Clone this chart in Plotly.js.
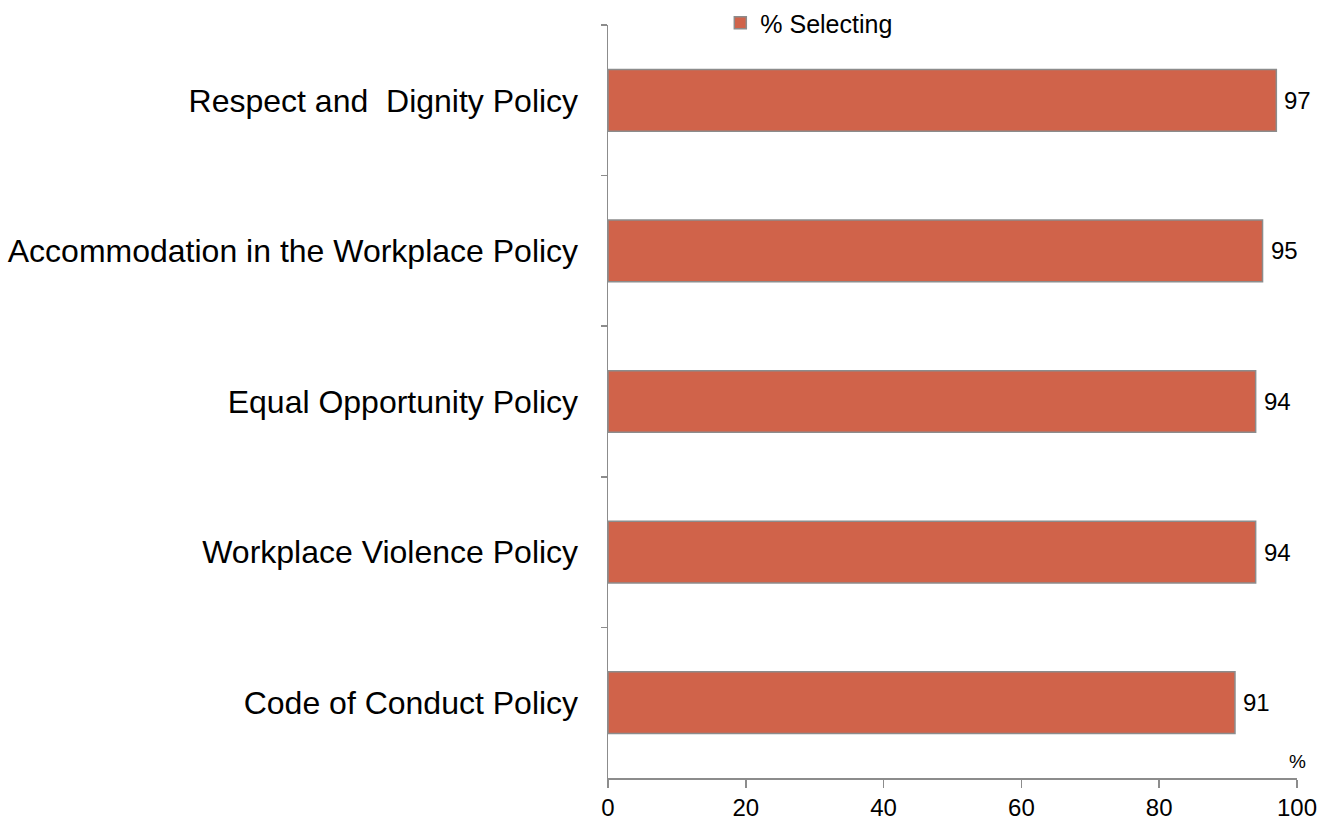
<!DOCTYPE html>
<html>
<head>
<meta charset="utf-8">
<script src="https://cdn.plot.ly/plotly-3.0.1.min.js"></script>
<style>html,body{margin:0;padding:0;background:#fff;}#chart{width:1318px;height:824px;}</style>
</head>
<body>
<div id="chart"></div>
<script>
var categories = ["Respect and  Dignity Policy", "Accommodation in the Workplace Policy", "Equal Opportunity Policy", "Workplace Violence Policy", "Code of Conduct Policy"];
var values = [97, 95, 94, 94, 91];
var seriesName = "% Selecting";
var xTicks = [0, 20, 40, 60, 80, 100];

var font = "'Liberation Sans', Arial, sans-serif";
var plotH = 778; // paper height (824 - bottom margin)
var topGap = 25;

var annotations = categories.map(function (c, i) {
  return {x: values[i], y: c, xref: "x", yref: "y", text: String(values[i]), showarrow: false,
    xanchor: "left", xshift: 6, font: {family: font, size: 24, color: "#000"}};
});
annotations.push({x: 1, y: 0, xref: "paper", yref: "paper", text: "%", showarrow: false,
  xanchor: "center", yanchor: "bottom", yshift: 4, font: {family: font, size: 19, color: "#000"}});

var trace = {
  type: "bar", orientation: "h", name: seriesName,
  x: values, y: categories,
  marker: {color: "#D0634A", line: {color: "#8C8C8C", width: 1.5}},
  showlegend: true, hoverinfo: "x+y"
};

var layout = {
  width: 1318, height: 824,
  margin: {l: 608, r: 21, t: 0, b: 46},
  paper_bgcolor: "#fff", plot_bgcolor: "#fff",
  font: {family: font, color: "#000"},
  bargap: 0.59,
  showlegend: true,
  legend: {orientation: "h", x: 0.163, xanchor: "left", y: 1, yanchor: "top",
    font: {family: font, size: 25, color: "#000"}, bgcolor: "rgba(0,0,0,0)", itemwidth: 30},
  xaxis: {range: [0, 100], tickvals: xTicks, ticktext: xTicks.map(String), showgrid: false, zeroline: false,
    showline: true, linecolor: "#8C8C8C", linewidth: 1.5, ticks: "outside", ticklen: 8, tickcolor: "#8C8C8C",
    tickwidth: 1.5, ticklabeloverflow: "allow", automargin: false,
    tickfont: {family: font, size: 24, color: "#000"}, fixedrange: true},
  yaxis: {type: "category", autorange: "reversed", domain: [0, 1 - topGap / plotH], showgrid: false, zeroline: false,
    showline: true, linecolor: "#8C8C8C", linewidth: 1.5, ticks: "outside", tickson: "boundaries", ticklen: 6,
    tickcolor: "#8C8C8C", tickwidth: 1.5, ticklabelstandoff: 22, automargin: false,
    tickfont: {family: font, size: 32, color: "#000"}, fixedrange: true},
  annotations: annotations
};

Plotly.newPlot("chart", [trace], layout, {displayModeBar: false, staticPlot: true});
</script>
</body>
</html>
